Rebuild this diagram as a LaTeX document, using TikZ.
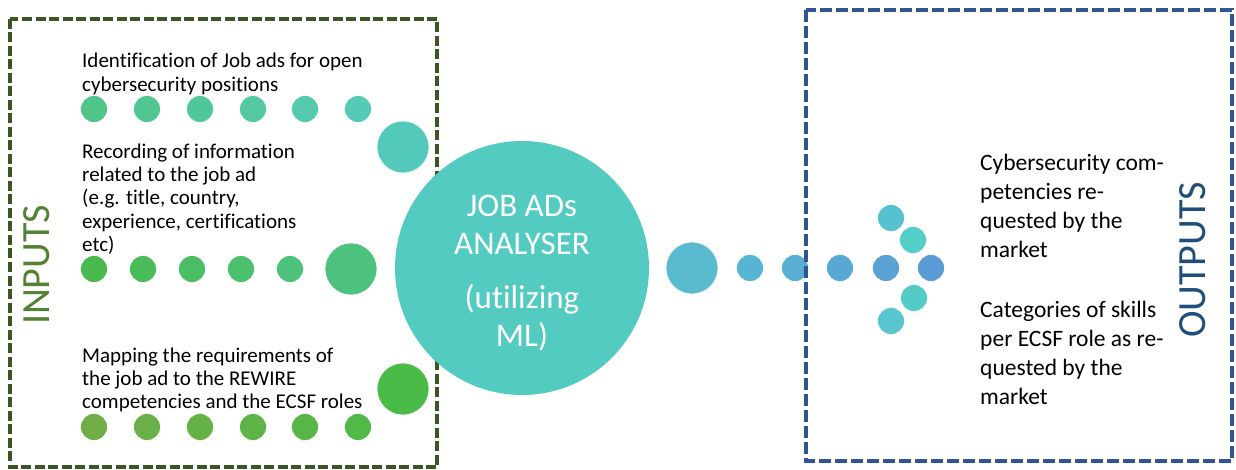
\documentclass[tikz,border=0pt]{standalone}
\usepackage{fontspec}
\setmainfont{Carlito}[Ligatures=NoCommon]
\definecolor{inframe}{HTML}{385723}
\definecolor{inlabel}{HTML}{548235}
\definecolor{outframe}{HTML}{2F5597}
\definecolor{outlabel}{HTML}{1F4E79}
\definecolor{analyser}{HTML}{53CBC1}
% dot colours, first and last of each row
\definecolor{findA}{HTML}{50C48A}
\definecolor{findB}{HTML}{55CAB4}
\definecolor{recA}{HTML}{49B94E}
\definecolor{recB}{HTML}{4EC27A}
\definecolor{mapA}{HTML}{70AD47}
\definecolor{mapB}{HTML}{52B847}
\definecolor{outA}{HTML}{57B4D3}
\definecolor{outB}{HTML}{5B9BD5}

\begin{document}
\begin{tikzpicture}[x=1pt, y=-1pt,
  dot/.style={circle, inner sep=0pt, minimum size=27pt, draw=white, line width=0.6pt},
  bigdot/.style={dot, minimum size=52pt},
  steptext/.style={anchor=base west, align=left, inner sep=0pt,
                   font=\fontsize{21}{23.3}\selectfont},
  resulttext/.style={anchor=base west, align=left, inner sep=0pt,
                     font=\fontsize{23.5}{29}\selectfont},
  sidelabel/.style={rotate=90, inner sep=0pt, font=\fontsize{40}{48}\selectfont}]
  \useasboundingbox (0,0) rectangle (1236,470);

  % inputs (text nodes sit on the baseline of their last line)
  \draw[inframe, line width=3.3pt, dash pattern=on 10pt off 3.5pt] (10,19) rectangle (437,467);
  \node[sidelabel, text=inlabel] (inputs) at (37,265) {INPUTS};

  \node[steptext] (find) at (82,91.3)
       {Identification of Job ads for open\\cybersecurity positions};
  \foreach \x [count=\i, evaluate=\i as \pct using (\i-1)*20] in {94,147,200,253,305,358}
    \node[dot, fill=findB!\pct!findA] (find\i) at (\x,109) {};
  \node[bigdot, fill={rgb,255:red,82;green,201;blue,187}] (findend) at (403,147) {};

  \node[steptext] (record) at (82,251.5)
       {Recording of information\\related to the job ad\\(e.g. title, country,\\experience, certifications\\etc)};
  \foreach \x [count=\i, evaluate=\i as \pct using (\i-1)*25] in {94,143,192,241,290}
    \node[dot, fill=recB!\pct!recA] (record\i) at (\x,269) {};
  \node[bigdot, fill={rgb,255:red,77;green,194;blue,126}] (recordend) at (351,269) {};

  \node[steptext] (mapping) at (82,408.6)
       {Mapping the requirements of\\the job ad to the REWIRE\\competencies and the ECSF roles};
  \foreach \x [count=\i, evaluate=\i as \pct using (\i-1)*20] in {94,147,200,253,305,358}
    \node[dot, fill=mapB!\pct!mapA] (map\i) at (\x,427) {};
  \node[bigdot, fill={rgb,255:red,74;green,187;blue,71}] (mapend) at (403,389) {};

  % analyser
  \node[circle, fill=analyser, inner sep=0pt, minimum size=254pt, text=white,
        align=center, font=\fontsize{33}{38}\selectfont] (analyser) at (522,268)
       {\rule{0pt}{31pt}JOB ADs\\ANALYSER\\[16pt](utilizing\\ML)};

  % outputs
  \node[bigdot, fill={rgb,255:red,90;green,187;blue,208}] (outstart) at (692,268) {};
  \foreach \x [count=\i, evaluate=\i as \pct using (\i-1)*25] in {750,795,840,886,931}
    \node[dot, fill=outB!\pct!outA] (out\i) at (\x,268) {};
  \node[dot, fill={rgb,255:red,87;green,192;blue,207}] (headA) at (891,218) {};
  \node[dot, fill={rgb,255:red,83;green,205;blue,200}] (headB) at (913,240) {};
  \node[dot, fill={rgb,255:red,83;green,204;blue,197}] (headC) at (914,298) {};
  \node[dot, fill={rgb,255:red,88;green,197;blue,207}] (headD) at (891,321) {};

  \draw[outframe, line width=3.5pt, dash pattern=on 12pt off 4pt] (806,10) rectangle (1232,461);
  \node[sidelabel, text=outlabel] (outputs) at (1193,260) {OUTPUTS};

  \node[resulttext] (competencies) at (980,258)
       {Cybersecurity com-\\petencies re-\\quested by the\\market};
  \node[resulttext] (skills) at (980,404)
       {Categories of skills\\per ECSF role as re-\\quested by the\\market};
\end{tikzpicture}
\end{document}
